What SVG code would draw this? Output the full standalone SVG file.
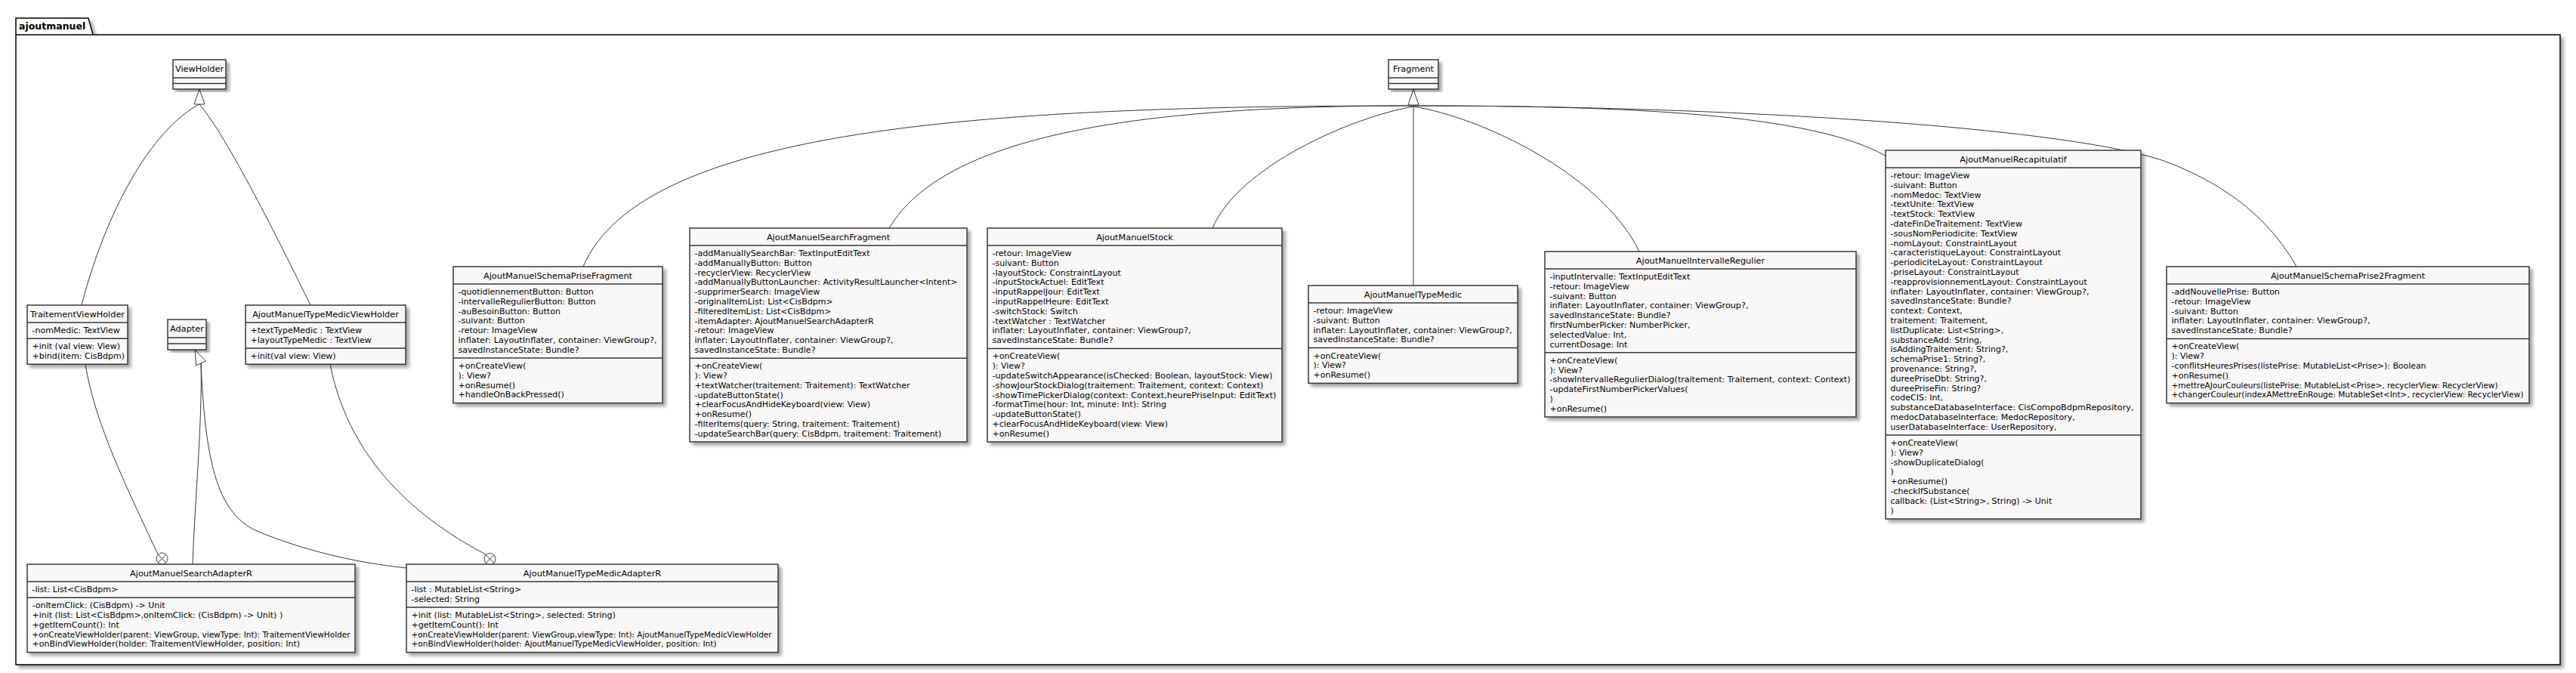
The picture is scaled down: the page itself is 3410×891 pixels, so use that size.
<svg xmlns="http://www.w3.org/2000/svg" width="3410" height="891" viewBox="0 0 3410 891">
<defs>
<filter id="sh" x="-5%" y="-5%" width="115%" height="115%">
<feGaussianBlur in="SourceAlpha" stdDeviation="2"/>
<feOffset dx="4" dy="4" result="b"/>
<feComponentTransfer><feFuncA type="linear" slope="0.35"/></feComponentTransfer>
<feMerge><feMergeNode/><feMergeNode in="SourceGraphic"/></feMerge>
</filter>
<filter id="shp" x="-1%" y="-2%" width="102%" height="104%">
<feGaussianBlur in="SourceAlpha" stdDeviation="2"/>
<feOffset dx="4" dy="4" result="b"/>
<feComponentTransfer><feFuncA type="linear" slope="0.35"/></feComponentTransfer>
<feMerge><feMergeNode/><feMergeNode in="SourceGraphic"/></feMerge>
</filter>
</defs>
<style>
.box{fill:#F8F8F8;stroke:#383838;stroke-width:1.5;filter:url(#sh)}
.sep{stroke:#383838;stroke-width:1.5}
.nm{font-family:"DejaVu Sans",sans-serif;font-size:11.3px;text-anchor:middle;fill:#000}
.mb{font-family:"DejaVu Sans",sans-serif;font-size:11px;fill:#000}
.edge{fill:none;stroke:#383838;stroke-width:1}
.tri{fill:#FFFFFF;stroke:#383838;stroke-width:1}
.pkg{fill:#FFFFFF;stroke:#000;stroke-width:1.5;filter:url(#shp)}
.pkgt{font-family:"DejaVu Sans",sans-serif;font-size:12.5px;font-weight:bold;fill:#000}
</style>
<rect width="3410" height="891" fill="#FFFFFF"/>
<g id="package-ajoutmanuel">
<path class="pkg" d="M21,46 L21,24 L117,24 L123,46 L3389,46 L3389,880 L21,880 Z"/>
<line x1="21" y1="46" x2="123" y2="46" stroke="#000" stroke-width="1.5"/>
<text class="pkgt" x="25" y="39">ajoutmanuel</text>
</g>
<g id="connectors">
<path class="edge" d="M264,138 C200,172 140,280 108,404"/>
<path class="edge" d="M264,138 C300,180 370,320 411,404"/>
<polygon class="tri" points="264,118 257,138 271,138"/>
<path class="edge" d="M113,482 C125,560 170,650 209,734"/>
<circle cx="214.5" cy="739.5" r="7.5" fill="#FFFFFF" stroke="#383838" stroke-width="1"/>
<line class="edge" x1="209.2" y1="734.2" x2="219.8" y2="744.8"/>
<line class="edge" x1="219.8" y1="734.2" x2="209.2" y2="744.8"/>
<path class="edge" d="M437,482 C460,600 540,680 643,734"/>
<circle cx="648.5" cy="740" r="7.5" fill="#FFFFFF" stroke="#383838" stroke-width="1"/>
<line class="edge" x1="643.2" y1="734.7" x2="653.8" y2="745.3"/>
<line class="edge" x1="653.8" y1="734.7" x2="643.2" y2="745.3"/>
<path class="edge" d="M266,481 C268,560 258,660 255,747"/>
<path class="edge" d="M266,481 C272,620 290,680 340,703 C400,728 470,745 538,752"/>
<polygon class="tri" points="258,463 272.4,478.2 259.6,483.8"/>
<path class="edge" d="M1871,140 C1300,140 850,170 772,353"/>
<path class="edge" d="M1871,140 C1500,140 1250,180 1177,302"/>
<path class="edge" d="M1871,141 C1790,155 1640,220 1605,302"/>
<line class="edge" x1="1871" y1="139" x2="1871" y2="378"/>
<path class="edge" d="M1871,141 C1960,155 2120,230 2170,333"/>
<path class="edge" d="M1871,140 C2150,140 2400,150 2497,207"/>
<path class="edge" d="M1871,140 C2300,140 2750,170 2870,215 C2960,250 3010,300 3040,353"/>
<polygon class="tri" points="1871,118 1864,139 1878,139"/>
</g>
<g id="ViewHolder">
<rect class="box" x="229" y="79" width="70" height="39"/>
<line class="sep" x1="229" y1="103" x2="299" y2="103"/>
<line class="sep" x1="229" y1="110.5" x2="299" y2="110.5"/>
<text class="nm" x="264" y="95">ViewHolder</text>
</g>
<g id="Fragment">
<rect class="box" x="1838" y="79" width="66" height="39"/>
<line class="sep" x1="1838" y1="103" x2="1904" y2="103"/>
<line class="sep" x1="1838" y1="110.5" x2="1904" y2="110.5"/>
<text class="nm" x="1871" y="95">Fragment</text>
</g>
<g id="Adapter">
<rect class="box" x="222" y="423" width="51" height="40"/>
<line class="sep" x1="222" y1="447" x2="273" y2="447"/>
<line class="sep" x1="222" y1="455" x2="273" y2="455"/>
<text class="nm" x="247.5" y="439">Adapter</text>
</g>
<g id="TraitementViewHolder">
<rect class="box" x="36" y="404" width="133" height="78.2"/>
<line class="sep" x1="36" y1="427" x2="169" y2="427"/>
<line class="sep" x1="36" y1="448.2" x2="169" y2="448.2"/>
<text class="nm" x="102.5" y="420">TraitementViewHolder</text>
<text class="mb" x="42.5" y="441">-nomMedic: TextView</text>
<text class="mb" x="42.5" y="462.2">+init (val view: View)</text>
<text class="mb" x="42.5" y="475">+bind(item: CisBdpm)</text>
</g>
<g id="AjoutManuelTypeMedicViewHolder">
<rect class="box" x="325" y="404" width="212" height="78.2"/>
<line class="sep" x1="325" y1="427" x2="537" y2="427"/>
<line class="sep" x1="325" y1="461" x2="537" y2="461"/>
<text class="nm" x="431" y="420">AjoutManuelTypeMedicViewHolder</text>
<text class="mb" x="331.5" y="441">+textTypeMedic : TextView</text>
<text class="mb" x="331.5" y="453.8">+layoutTypeMedic : TextView</text>
<text class="mb" x="331.5" y="475">+init(val view: View)</text>
</g>
<g id="AjoutManuelSearchAdapterR">
<rect class="box" x="36" y="747" width="434" height="116.6"/>
<line class="sep" x1="36" y1="770" x2="470" y2="770"/>
<line class="sep" x1="36" y1="791.2" x2="470" y2="791.2"/>
<text class="nm" x="253" y="763">AjoutManuelSearchAdapterR</text>
<text class="mb" x="42.5" y="784">-list: List&lt;CisBdpm&gt;</text>
<text class="mb" x="42.5" y="805.2">-onItemClick: (CisBdpm) -&gt; Unit</text>
<text class="mb" x="42.5" y="818">+init (list: List&lt;CisBdpm&gt;,onItemClick: (CisBdpm) -&gt; Unit) )</text>
<text class="mb" x="42.5" y="830.8">+getItemCount(): Int</text>
<text class="mb" x="42.5" y="843.6" textLength="421" lengthAdjust="spacingAndGlyphs">+onCreateViewHolder(parent: ViewGroup, viewType: Int): TraitementViewHolder</text>
<text class="mb" x="42.5" y="856.4">+onBindViewHolder(holder: TraitementViewHolder, position: Int)</text>
</g>
<g id="AjoutManuelTypeMedicAdapterR">
<rect class="box" x="538" y="747" width="492" height="116.6"/>
<line class="sep" x1="538" y1="770" x2="1030" y2="770"/>
<line class="sep" x1="538" y1="804" x2="1030" y2="804"/>
<text class="nm" x="784" y="763">AjoutManuelTypeMedicAdapterR</text>
<text class="mb" x="544.5" y="784">-list : MutableList&lt;String&gt;</text>
<text class="mb" x="544.5" y="796.8">-selected: String</text>
<text class="mb" x="544.5" y="818">+init (list: MutableList&lt;String&gt;, selected: String)</text>
<text class="mb" x="544.5" y="830.8">+getItemCount(): Int</text>
<text class="mb" x="544.5" y="843.6" textLength="477" lengthAdjust="spacingAndGlyphs">+onCreateViewHolder(parent: ViewGroup,viewType: Int): AjoutManuelTypeMedicViewHolder</text>
<text class="mb" x="544.5" y="856.4" textLength="404" lengthAdjust="spacingAndGlyphs">+onBindViewHolder(holder: AjoutManuelTypeMedicViewHolder, position: Int)</text>
</g>
<g id="AjoutManuelSchemaPriseFragment">
<rect class="box" x="600" y="353" width="277" height="180.6"/>
<line class="sep" x1="600" y1="376" x2="877" y2="376"/>
<line class="sep" x1="600" y1="474" x2="877" y2="474"/>
<text class="nm" x="738.5" y="369">AjoutManuelSchemaPriseFragment</text>
<text class="mb" x="606.5" y="390">-quotidiennementButton: Button</text>
<text class="mb" x="606.5" y="402.8">-intervalleRegulierButton: Button</text>
<text class="mb" x="606.5" y="415.6">-auBesoinButton: Button</text>
<text class="mb" x="606.5" y="428.4">-suivant: Button</text>
<text class="mb" x="606.5" y="441.2">-retour: ImageView</text>
<text class="mb" x="606.5" y="454" textLength="263" lengthAdjust="spacingAndGlyphs">inflater: LayoutInflater, container: ViewGroup?,</text>
<text class="mb" x="606.5" y="466.8">savedInstanceState: Bundle?</text>
<text class="mb" x="606.5" y="488">+onCreateView(</text>
<text class="mb" x="606.5" y="500.8">): View?</text>
<text class="mb" x="606.5" y="513.6">+onResume()</text>
<text class="mb" x="606.5" y="526.4">+handleOnBackPressed()</text>
</g>
<g id="AjoutManuelSearchFragment">
<rect class="box" x="913" y="302" width="367" height="283"/>
<line class="sep" x1="913" y1="325" x2="1280" y2="325"/>
<line class="sep" x1="913" y1="474.2" x2="1280" y2="474.2"/>
<text class="nm" x="1096.5" y="318">AjoutManuelSearchFragment</text>
<text class="mb" x="919.5" y="339">-addManuallySearchBar: TextInputEditText</text>
<text class="mb" x="919.5" y="351.8">-addManuallyButton: Button</text>
<text class="mb" x="919.5" y="364.6">-recyclerView: RecyclerView</text>
<text class="mb" x="919.5" y="377.4" textLength="348" lengthAdjust="spacingAndGlyphs">-addManuallyButtonLauncher: ActivityResultLauncher&lt;Intent&gt;</text>
<text class="mb" x="919.5" y="390.2">-supprimerSearch: ImageView</text>
<text class="mb" x="919.5" y="403">-originalItemList: List&lt;CisBdpm&gt;</text>
<text class="mb" x="919.5" y="415.8">-filteredItemList: List&lt;CisBdpm&gt;</text>
<text class="mb" x="919.5" y="428.6">-itemAdapter: AjoutManuelSearchAdapterR</text>
<text class="mb" x="919.5" y="441.4">-retour: ImageView</text>
<text class="mb" x="919.5" y="454.2" textLength="263" lengthAdjust="spacingAndGlyphs">inflater: LayoutInflater, container: ViewGroup?,</text>
<text class="mb" x="919.5" y="467">savedInstanceState: Bundle?</text>
<text class="mb" x="919.5" y="488.2">+onCreateView(</text>
<text class="mb" x="919.5" y="501">): View?</text>
<text class="mb" x="919.5" y="513.8">+textWatcher(traitement: Traitement): TextWatcher</text>
<text class="mb" x="919.5" y="526.6">-updateButtonState()</text>
<text class="mb" x="919.5" y="539.4">+clearFocusAndHideKeyboard(view: View)</text>
<text class="mb" x="919.5" y="552.2">+onResume()</text>
<text class="mb" x="919.5" y="565">-filterItems(query: String, traitement: Traitement)</text>
<text class="mb" x="919.5" y="577.8">-updateSearchBar(query: CisBdpm, traitement: Traitement)</text>
</g>
<g id="AjoutManuelStock">
<rect class="box" x="1307" y="302" width="390" height="283"/>
<line class="sep" x1="1307" y1="325" x2="1697" y2="325"/>
<line class="sep" x1="1307" y1="461.4" x2="1697" y2="461.4"/>
<text class="nm" x="1502" y="318">AjoutManuelStock</text>
<text class="mb" x="1313.5" y="339">-retour: ImageView</text>
<text class="mb" x="1313.5" y="351.8">-suivant: Button</text>
<text class="mb" x="1313.5" y="364.6">-layoutStock: ConstraintLayout</text>
<text class="mb" x="1313.5" y="377.4">-inputStockActuel: EditText</text>
<text class="mb" x="1313.5" y="390.2">-inputRappelJour: EditText</text>
<text class="mb" x="1313.5" y="403">-inputRappelHeure: EditText</text>
<text class="mb" x="1313.5" y="415.8">-switchStock: Switch</text>
<text class="mb" x="1313.5" y="428.6">-textWatcher : TextWatcher</text>
<text class="mb" x="1313.5" y="441.4" textLength="263" lengthAdjust="spacingAndGlyphs">inflater: LayoutInflater, container: ViewGroup?,</text>
<text class="mb" x="1313.5" y="454.2">savedInstanceState: Bundle?</text>
<text class="mb" x="1313.5" y="475.4">+onCreateView(</text>
<text class="mb" x="1313.5" y="488.2">): View?</text>
<text class="mb" x="1313.5" y="501" textLength="371" lengthAdjust="spacingAndGlyphs">-updateSwitchAppearance(isChecked: Boolean, layoutStock: View)</text>
<text class="mb" x="1313.5" y="513.8" textLength="359" lengthAdjust="spacingAndGlyphs">-showJourStockDialog(traitement: Traitement, context: Context)</text>
<text class="mb" x="1313.5" y="526.6" textLength="376" lengthAdjust="spacingAndGlyphs">-showTimePickerDialog(context: Context,heurePriseInput: EditText)</text>
<text class="mb" x="1313.5" y="539.4">-formatTime(hour: Int, minute: Int): String</text>
<text class="mb" x="1313.5" y="552.2">-updateButtonState()</text>
<text class="mb" x="1313.5" y="565">+clearFocusAndHideKeyboard(view: View)</text>
<text class="mb" x="1313.5" y="577.8">+onResume()</text>
</g>
<g id="AjoutManuelTypeMedic">
<rect class="box" x="1732" y="378" width="277" height="129.4"/>
<line class="sep" x1="1732" y1="401" x2="2009" y2="401"/>
<line class="sep" x1="1732" y1="460.6" x2="2009" y2="460.6"/>
<text class="nm" x="1870.5" y="394">AjoutManuelTypeMedic</text>
<text class="mb" x="1738.5" y="415">-retour: ImageView</text>
<text class="mb" x="1738.5" y="427.8">-suivant: Button</text>
<text class="mb" x="1738.5" y="440.6" textLength="263" lengthAdjust="spacingAndGlyphs">inflater: LayoutInflater, container: ViewGroup?,</text>
<text class="mb" x="1738.5" y="453.4">savedInstanceState: Bundle?</text>
<text class="mb" x="1738.5" y="474.6">+onCreateView(</text>
<text class="mb" x="1738.5" y="487.4">): View?</text>
<text class="mb" x="1738.5" y="500.2">+onResume()</text>
</g>
<g id="AjoutManuelIntervalleRegulier">
<rect class="box" x="2045" y="333" width="412" height="219"/>
<line class="sep" x1="2045" y1="356" x2="2457" y2="356"/>
<line class="sep" x1="2045" y1="466.8" x2="2457" y2="466.8"/>
<text class="nm" x="2251" y="349">AjoutManuelIntervalleRegulier</text>
<text class="mb" x="2051.5" y="370">-inputIntervalle: TextInputEditText</text>
<text class="mb" x="2051.5" y="382.8">-retour: ImageView</text>
<text class="mb" x="2051.5" y="395.6">-suivant: Button</text>
<text class="mb" x="2051.5" y="408.4" textLength="263" lengthAdjust="spacingAndGlyphs">inflater: LayoutInflater, container: ViewGroup?,</text>
<text class="mb" x="2051.5" y="421.2">savedInstanceState: Bundle?</text>
<text class="mb" x="2051.5" y="434">firstNumberPicker: NumberPicker,</text>
<text class="mb" x="2051.5" y="446.8">selectedValue: Int,</text>
<text class="mb" x="2051.5" y="459.6">currentDosage: Int</text>
<text class="mb" x="2051.5" y="480.8">+onCreateView(</text>
<text class="mb" x="2051.5" y="493.6">): View?</text>
<text class="mb" x="2051.5" y="506.4" textLength="398" lengthAdjust="spacingAndGlyphs">-showIntervalleRegulierDialog(traitement: Traitement, context: Context)</text>
<text class="mb" x="2051.5" y="519.2">-updateFirstNumberPickerValues(</text>
<text class="mb" x="2051.5" y="532">)</text>
<text class="mb" x="2051.5" y="544.8">+onResume()</text>
</g>
<g id="AjoutManuelRecapitulatif">
<rect class="box" x="2496" y="199" width="338" height="488"/>
<line class="sep" x1="2496" y1="222" x2="2834" y2="222"/>
<line class="sep" x1="2496" y1="576" x2="2834" y2="576"/>
<text class="nm" x="2665" y="215">AjoutManuelRecapitulatif</text>
<text class="mb" x="2502.5" y="236">-retour: ImageView</text>
<text class="mb" x="2502.5" y="248.8">-suivant: Button</text>
<text class="mb" x="2502.5" y="261.6">-nomMedoc: TextView</text>
<text class="mb" x="2502.5" y="274.4">-textUnite: TextView</text>
<text class="mb" x="2502.5" y="287.2">-textStock: TextView</text>
<text class="mb" x="2502.5" y="300">-dateFinDeTraitement: TextView</text>
<text class="mb" x="2502.5" y="312.8">-sousNomPeriodicite: TextView</text>
<text class="mb" x="2502.5" y="325.6">-nomLayout: ConstraintLayout</text>
<text class="mb" x="2502.5" y="338.4">-caracteristiqueLayout: ConstraintLayout</text>
<text class="mb" x="2502.5" y="351.2">-periodiciteLayout: ConstraintLayout</text>
<text class="mb" x="2502.5" y="364">-priseLayout: ConstraintLayout</text>
<text class="mb" x="2502.5" y="376.8">-reapprovisionnementLayout: ConstraintLayout</text>
<text class="mb" x="2502.5" y="389.6" textLength="263" lengthAdjust="spacingAndGlyphs">inflater: LayoutInflater, container: ViewGroup?,</text>
<text class="mb" x="2502.5" y="402.4">savedInstanceState: Bundle?</text>
<text class="mb" x="2502.5" y="415.2">context: Context,</text>
<text class="mb" x="2502.5" y="428">traitement: Traitement,</text>
<text class="mb" x="2502.5" y="440.8">listDuplicate: List&lt;String&gt;,</text>
<text class="mb" x="2502.5" y="453.6">substanceAdd: String,</text>
<text class="mb" x="2502.5" y="466.4">isAddingTraitement: String?,</text>
<text class="mb" x="2502.5" y="479.2">schemaPrise1: String?,</text>
<text class="mb" x="2502.5" y="492">provenance: String?,</text>
<text class="mb" x="2502.5" y="504.8">dureePriseDbt: String?,</text>
<text class="mb" x="2502.5" y="517.6">dureePriseFin: String?</text>
<text class="mb" x="2502.5" y="530.4">codeCIS: Int,</text>
<text class="mb" x="2502.5" y="543.2" textLength="322" lengthAdjust="spacingAndGlyphs">substanceDatabaseInterface: CisCompoBdpmRepository,</text>
<text class="mb" x="2502.5" y="556">medocDatabaseInterface: MedocRepository,</text>
<text class="mb" x="2502.5" y="568.8">userDatabaseInterface: UserRepository,</text>
<text class="mb" x="2502.5" y="590">+onCreateView(</text>
<text class="mb" x="2502.5" y="602.8">): View?</text>
<text class="mb" x="2502.5" y="615.6">-showDuplicateDialog(</text>
<text class="mb" x="2502.5" y="628.4">)</text>
<text class="mb" x="2502.5" y="641.2">+onResume()</text>
<text class="mb" x="2502.5" y="654">-checkIfSubstance(</text>
<text class="mb" x="2502.5" y="666.8">callback: (List&lt;String&gt;, String) -&gt; Unit</text>
<text class="mb" x="2502.5" y="679.6">)</text>
</g>
<g id="AjoutManuelSchemaPrise2Fragment">
<rect class="box" x="2868" y="353" width="480" height="180.6"/>
<line class="sep" x1="2868" y1="376" x2="3348" y2="376"/>
<line class="sep" x1="2868" y1="448.4" x2="3348" y2="448.4"/>
<text class="nm" x="3108" y="369">AjoutManuelSchemaPrise2Fragment</text>
<text class="mb" x="2874.5" y="390">-addNouvellePrise: Button</text>
<text class="mb" x="2874.5" y="402.8">-retour: ImageView</text>
<text class="mb" x="2874.5" y="415.6">-suivant: Button</text>
<text class="mb" x="2874.5" y="428.4" textLength="263" lengthAdjust="spacingAndGlyphs">inflater: LayoutInflater, container: ViewGroup?,</text>
<text class="mb" x="2874.5" y="441.2">savedInstanceState: Bundle?</text>
<text class="mb" x="2874.5" y="462.4">+onCreateView(</text>
<text class="mb" x="2874.5" y="475.2">): View?</text>
<text class="mb" x="2874.5" y="488" textLength="337" lengthAdjust="spacingAndGlyphs">-conflitsHeuresPrises(listePrise: MutableList&lt;Prise&gt;): Boolean</text>
<text class="mb" x="2874.5" y="500.8">+onResume()</text>
<text class="mb" x="2874.5" y="513.6" textLength="432" lengthAdjust="spacingAndGlyphs">+mettreAJourCouleurs(listePrise: MutableList&lt;Prise&gt;, recyclerView: RecyclerView)</text>
<text class="mb" x="2874.5" y="526.4" textLength="466" lengthAdjust="spacingAndGlyphs">+changerCouleur(indexAMettreEnRouge: MutableSet&lt;Int&gt;, recyclerView: RecyclerView)</text>
</g>
</svg>
